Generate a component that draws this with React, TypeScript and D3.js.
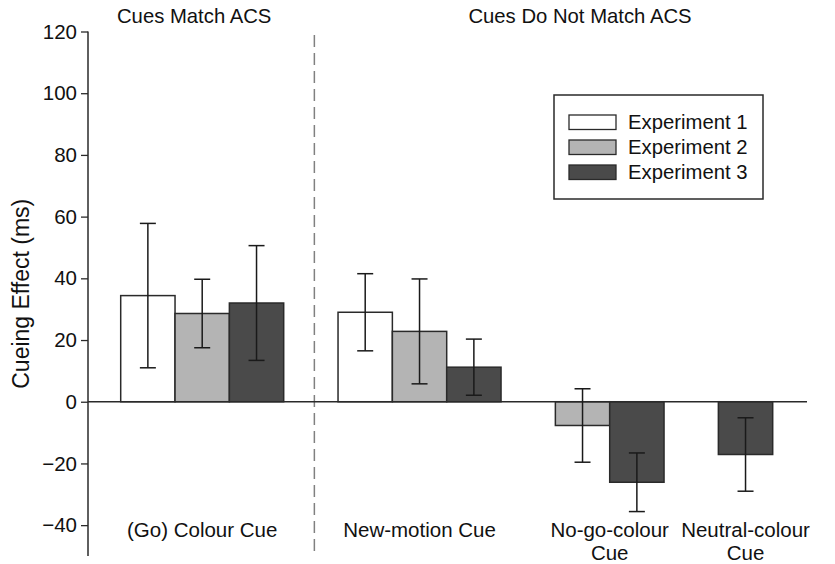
import { useEffect, useRef } from 'react';
import * as d3 from 'd3';

const categories = ['(Go) Colour Cue', 'New-motion Cue', 'No-go-colour\nCue', 'Neutral-colour\nCue'];
const experiments = ['Experiment 1', 'Experiment 2', 'Experiment 3'];
const expColors = ['#ffffff', '#b4b4b4', '#4a4a4a'];

// cueing effect means (ms), null = not tested
const exp1Means = [34.4, 29.0, null, null];
const exp2Means = [28.6, 22.8, -7.7, null];
const exp3Means = [32.0, 11.2, -26.1, -17.1];
// error bar half widths
const exp1Err = [23.4, 12.5, null, null];
const exp2Err = [11.1, 17.0, 11.9, null];
const exp3Err = [18.6, 9.1, 9.5, 11.9];

const yTicks = [-40, -20, 0, 20, 40, 60, 80, 100, 120];
const sectionTitles = ['Cues Match ACS', 'Cues Do Not Match ACS'];

const FONT = '"Liberation Sans", Arial, sans-serif';
const INK = '#111111';

const App = () => {
	const ref = useRef<SVGSVGElement>(null);

	useEffect(() => {
		const svg = d3.select(ref.current);
		svg.selectAll('*').remove();

		const means = [exp1Means, exp2Means, exp3Means];
		const errs = [exp1Err, exp2Err, exp3Err];

		// lay bars out in slots, one empty slot after each category
		const bars: any[] = [];
		const groups: any[] = [];
		let slot = 0;
		categories.forEach((c, ci) => {
			const first = slot;
			experiments.forEach((e, ei) => {
				const m = means[ei][ci];
				if (m === null) return;
				bars.push({ cat: c, exp: ei, value: m, err: errs[ei][ci], slot: slot });
				slot++;
			});
			groups.push({ cat: c, first: first, last: slot - 1, gap: slot });
			slot++;
		});

		const x = d3
			.scaleBand<number>()
			.domain(d3.range(slot - 1))
			.range([120.7, 772.7])
			.padding(0);
		const bw = x.bandwidth();

		const y = d3.scaleLinear().domain([-50, 120]).range([556, 31.5]);
		const axisX = 88;

		// y axis
		const yAxis = svg
			.append('g')
			.attr('transform', `translate(${axisX},0)`)
			.call(d3.axisLeft(y).tickValues(yTicks).tickSize(7).tickSizeOuter(0).tickPadding(4));
		yAxis.select('.domain').attr('stroke', '#2a2a2a').attr('stroke-width', 1.5).attr('d', `M0,${y(120)}V${y(-50)}`);
		yAxis.selectAll('.tick line').attr('stroke', '#2a2a2a').attr('stroke-width', 1.3);
		yAxis
			.selectAll('.tick text')
			.attr('fill', INK)
			.style('font-family', FONT)
			.style('font-size', '20.5px');

		svg
			.append('text')
			.attr('transform', `translate(29,${y(35)}) rotate(-90)`)
			.attr('text-anchor', 'middle')
			.style('font-family', FONT)
			.style('font-size', '23px')
			.attr('fill', INK)
			.text('Cueing Effect (ms)');

		// divider between sections
		const divX = x(groups[0].gap)! + bw / 2 + 3.5;
		svg
			.append('line')
			.attr('x1', divX)
			.attr('x2', divX)
			.attr('y1', 35)
			.attr('y2', y(-50))
			.attr('stroke', '#808080')
			.attr('stroke-width', 1.5)
			.attr('stroke-dasharray', '12,6');

		// section titles
		svg
			.append('text')
			.attr('x', (axisX + divX) / 2 - 7)
			.attr('y', 23)
			.attr('text-anchor', 'middle')
			.style('font-family', FONT)
			.style('font-size', '20.3px')
			.attr('fill', INK)
			.text(sectionTitles[0]);
		svg
			.append('text')
			.attr('x', 580)
			.attr('y', 23)
			.attr('text-anchor', 'middle')
			.style('font-family', FONT)
			.style('font-size', '20.3px')
			.attr('fill', INK)
			.text(sectionTitles[1]);

		// bars
		svg
			.append('g')
			.selectAll('rect')
			.data(bars)
			.join('rect')
			.attr('x', (d) => x(d.slot)!)
			.attr('y', (d) => y(Math.max(0, d.value)))
			.attr('width', bw)
			.attr('height', (d) => Math.abs(y(d.value) - y(0)))
			.attr('fill', (d) => expColors[d.exp])
			.attr('stroke', '#2a2a2a')
			.attr('stroke-width', 1.5);

		// zero line
		svg
			.append('line')
			.attr('x1', axisX)
			.attr('x2', 807)
			.attr('y1', y(0))
			.attr('y2', y(0))
			.attr('stroke', '#2a2a2a')
			.attr('stroke-width', 1.5);

		// error bars
		const eb = svg.append('g').attr('stroke', '#1a1a1a').attr('stroke-width', 1.5);
		bars.forEach((d) => {
			const cx = x(d.slot)! + bw / 2;
			const top = y(d.value + d.err);
			const bot = y(d.value - d.err);
			eb.append('line').attr('x1', cx).attr('x2', cx).attr('y1', top).attr('y2', bot);
			eb.append('line').attr('x1', cx - 8).attr('x2', cx + 8).attr('y1', top).attr('y2', top);
			eb.append('line').attr('x1', cx - 8).attr('x2', cx + 8).attr('y1', bot).attr('y2', bot);
		});

		// category labels
		groups.forEach((g) => {
			const cx = (x(g.first)! + x(g.last)! + bw) / 2;
			const t = svg
				.append('text')
				.attr('text-anchor', 'middle')
				.style('font-family', FONT)
				.style('font-size', '20.5px')
				.attr('fill', INK);
			g.cat.split('\n').forEach((line: string, i: number) => {
				t.append('tspan')
					.attr('x', cx)
					.attr('y', 537 + i * 23)
					.text(line);
			});
		});

		// legend
		const lg = svg.append('g').attr('transform', 'translate(554,95)');
		lg.append('rect')
			.attr('width', 209)
			.attr('height', 104)
			.attr('fill', '#ffffff')
			.attr('stroke', '#2a2a2a')
			.attr('stroke-width', 1.5);
		experiments.forEach((e, i) => {
			lg.append('rect')
				.attr('x', 15)
				.attr('y', 20 + i * 25)
				.attr('width', 47)
				.attr('height', 14.5)
				.attr('fill', expColors[i])
				.attr('stroke', '#2a2a2a')
				.attr('stroke-width', 1.3);
			lg.append('text')
				.attr('x', 74)
				.attr('y', 34 + i * 25)
				.style('font-family', FONT)
				.style('font-size', '20.3px')
				.attr('fill', INK)
				.text(e);
		});
	}, []);

	return (
		<svg
			ref={ref}
			width={835}
			height={564}
			style={{ position: 'absolute', left: 0, top: 0, background: '#ffffff' }}
		></svg>
	);
};

export default App;
